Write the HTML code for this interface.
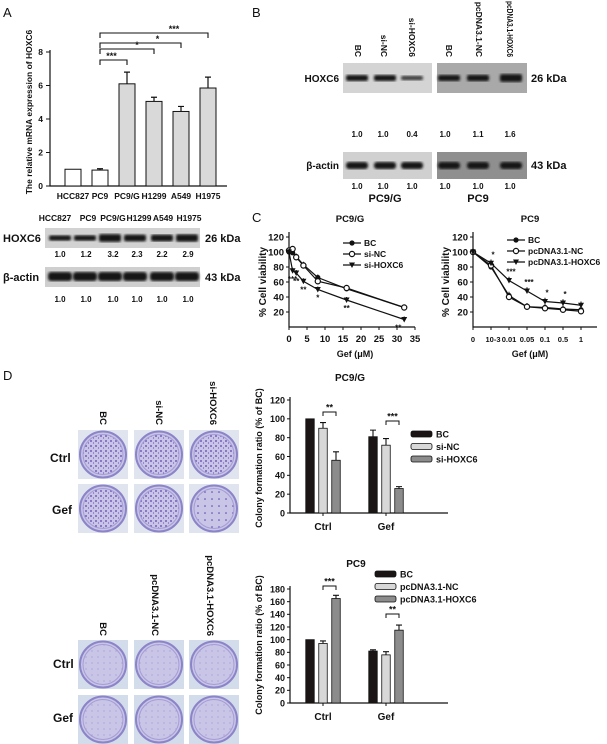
<!DOCTYPE html>
<html><head><meta charset="utf-8">
<style>
html,body{margin:0;padding:0;background:#fff;}
svg{display:block;font-family:"Liberation Sans",Arial,sans-serif;}
text{font-weight:bold;fill:#111;}
.pl{font-weight:normal;font-size:13px;}
</style></head>
<body>
<svg id="fig" width="607" height="744" viewBox="0 0 607 744" xmlns="http://www.w3.org/2000/svg">
<defs>
<filter id="blur1"><feGaussianBlur stdDeviation="1.2"/></filter>
<pattern id="dots1" width="5" height="5" patternUnits="userSpaceOnUse"><circle cx="1" cy="1" r="0.9" fill="#5a3fb0"/><circle cx="3.5" cy="3" r="0.6" fill="#6c52c0"/></pattern>
<pattern id="dots2" width="7" height="7" patternUnits="userSpaceOnUse"><circle cx="2" cy="2" r="0.8" fill="#5a3fb0"/></pattern>
<pattern id="dots3" width="6" height="6" patternUnits="userSpaceOnUse"><circle cx="2" cy="3" r="0.5" fill="#8a78c8"/></pattern>
</defs>

<text class="pl" x="3" y="17">A</text>
<text class="pl" x="252" y="17">B</text>
<text class="pl" x="252" y="222">C</text>
<text class="pl" x="3" y="380">D</text>

<text x="0" y="0" font-size="8.5" text-anchor="middle" transform="translate(32,112) rotate(-90)">The relative mRNA expression of HOXC6</text>

<g id="gA"></g>

<g>
<g font-size="8.5" text-anchor="middle">
<text x="55" y="221">HCC827</text><text x="88" y="221">PC9</text><text x="113" y="221">PC9/G</text><text x="139" y="221">H1299</text><text x="163" y="221">A549</text><text x="189" y="221">H1975</text>
</g>
<text x="3" y="242" font-size="11">HOXC6</text>
<text x="3" y="281" font-size="11">β-actin</text>
<text x="205" y="242" font-size="11">26 kDa</text>
<text x="205" y="281" font-size="11">43 kDa</text>
<rect x="45" y="228" width="155" height="20" fill="#d2d2d2"/>
<rect x="45" y="267" width="155" height="20" fill="#cfcfcf"/>
<g id="bandsA"></g>
<g font-size="8" text-anchor="middle">
<text x="60" y="257">1.0</text><text x="86" y="257">1.2</text><text x="113" y="257">3.2</text><text x="137" y="257">2.3</text><text x="162" y="257">2.2</text><text x="188" y="257">2.9</text>
<text x="60" y="302">1.0</text><text x="86" y="302">1.0</text><text x="113" y="302">1.0</text><text x="137" y="302">1.0</text><text x="162" y="302">1.0</text><text x="188" y="302">1.0</text>
</g>
</g>

<g>
<g font-size="8.5">
<text x="0" y="0" transform="translate(355,57) rotate(90)" text-anchor="end">BC</text>
<text x="0" y="0" transform="translate(381,57) rotate(90)" text-anchor="end">si-NC</text>
<text x="0" y="0" transform="translate(409,57) rotate(90)" text-anchor="end">si-HOXC6</text>
<text x="0" y="0" transform="translate(446,57) rotate(90)" text-anchor="end">BC</text>
<text x="0" y="0" transform="translate(476,57) rotate(90)" text-anchor="end">pcDNA3.1-NC</text>
<text x="0" y="0" transform="translate(507,57) rotate(90)" text-anchor="end" textLength="56" lengthAdjust="spacingAndGlyphs">pcDNA3.1-HOXC6</text>
</g>
<text x="339" y="82" font-size="10" text-anchor="end">HOXC6</text>
<text x="339" y="169" font-size="10" text-anchor="end">β-actin</text>
<text x="531" y="82" font-size="11">26 kDa</text>
<text x="531" y="169" font-size="11">43 kDa</text>
<rect x="343" y="63" width="89" height="30" fill="#d4d4d4"/>
<rect x="437" y="63" width="90" height="30" fill="#a9a9a9"/>
<rect x="343" y="152" width="89" height="27" fill="#d0d0d0"/>
<rect x="437" y="152" width="90" height="27" fill="#8f8f8f"/>
<g id="bandsB"></g>
<g font-size="8" text-anchor="middle">
<text x="357" y="137">1.0</text><text x="383" y="137">1.0</text><text x="412" y="137">0.4</text>
<text x="445" y="137">1.0</text><text x="478" y="137">1.1</text><text x="510" y="137">1.6</text>
<text x="357" y="189">1.0</text><text x="383" y="189">1.0</text><text x="412" y="189">1.0</text>
<text x="445" y="189">1.0</text><text x="478" y="189">1.0</text><text x="510" y="189">1.0</text>
</g>
<text x="385" y="202" font-size="11" text-anchor="middle">PC9/G</text>
<text x="478" y="202" font-size="11" text-anchor="middle">PC9</text>
</g>

<text x="350" y="222" font-size="9.5" text-anchor="middle">PC9/G</text>
<text x="530" y="222" font-size="9.5" text-anchor="middle">PC9</text>
<text x="0" y="0" font-size="10" text-anchor="middle" transform="translate(266,282) rotate(-90)">% Cell viability</text>
<text x="0" y="0" font-size="10" text-anchor="middle" transform="translate(449,282) rotate(-90)">% Cell viability</text>
<text x="355" y="357" font-size="9" text-anchor="middle">Gef (μM)</text>
<text x="530" y="357" font-size="9" text-anchor="middle">Gef (μM)</text>
<g id="gC1"></g>
<g id="gC2"></g>

<g>
<g font-size="9.5">
<text x="0" y="0" transform="translate(100,425) rotate(90)" text-anchor="end">BC</text>
<text x="0" y="0" transform="translate(156,425) rotate(90)" text-anchor="end">si-NC</text>
<text x="0" y="0" transform="translate(210,425) rotate(90)" text-anchor="end">si-HOXC6</text>
<text x="0" y="0" transform="translate(100,636) rotate(90)" text-anchor="end">BC</text>
<text x="0" y="0" transform="translate(152,636) rotate(90)" text-anchor="end">pcDNA3.1-NC</text>
<text x="0" y="0" transform="translate(207,636) rotate(90)" text-anchor="end">pcDNA3.1-HOXC6</text>
</g>
<g font-size="12">
<text x="50" y="462">Ctrl</text><text x="52" y="514">Gef</text>
<text x="53" y="668">Ctrl</text><text x="53" y="722">Gef</text>
</g>
<g id="plates"></g>
</g>

<text x="0" y="0" font-size="9" text-anchor="middle" transform="translate(262,458) rotate(-90)">Colony  formation ratio (% of BC)</text>
<text x="0" y="0" font-size="9" text-anchor="middle" transform="translate(262,645) rotate(-90)">Colony  formation ratio (% of BC)</text>
<text x="350" y="381" font-size="10" text-anchor="middle">PC9/G</text>
<text x="356" y="567" font-size="10" text-anchor="middle">PC9</text>
<g id="gD1"></g>
<g id="gD2"></g>
</svg>

<script>
const aCats = ['HCC827','PC9','PC9/G','H1299','A549','H1975'];
const aVals = [1.0, 0.95, 6.1, 5.05, 4.45, 5.85];
const aErr = [0, 0.08, 0.7, 0.25, 0.3, 0.65];
const aTicks = [0, 2, 4, 6, 8];
const aSig = [['PC9/G','***'],['H1299','*'],['A549','*'],['H1975','***']];
const blotA_hox = [1.0, 1.2, 3.2, 2.3, 2.2, 2.9];
const blotB_hox = [1.0, 1.0, 0.4, 1.0, 1.1, 1.6];
const c1X = [0, 1, 2, 4, 8, 16, 32];
const c1BC = [100, 99, 94, 83, 66, 51, 26];
const c1NC = [102, 104, 93, 82, 61, 52, 26];
const c1HOX = [100, 75, 72, 61, 50, 36, 10];
const c1Xticks = [0, 5, 10, 15, 20, 25, 30, 35];
const cYticks = [20, 40, 60, 80, 100, 120];
const c1Stars = [[1,'***'],[2,'**'],[4,'**'],[8,'*'],[16,'**'],[32,'**']];
const c2Cats = ['0','10-3','0.01','0.05','0.1','0.5','1'];
const c2BC = [100, 80, 42, 27, 26, 24, 23];
const c2NC = [100, 82, 40, 27, 25, 23, 21];
const c2HOX = [100, 85, 62, 48, 34, 32, 29];
const c2Stars = [[1,'*'],[2,'***'],[3,'***'],[4,'*'],[5,'*']];
const dGroups = ['Ctrl','Gef'];
const d1BC = [100, 81];
const d1NC = [90, 72];
const d1HOX = [56, 26];
const d1Err = [[0,6,9],[7,7,2]];
const d1Ticks = [0, 20, 40, 60, 80, 100, 120];
const d1Sig = ['**','***'];
const d2BC = [100, 82];
const d2NC = [94, 76];
const d2HOX = [165, 115];
const d2Err = [[0,4,5],[2,5,8]];
const d2Ticks = [0, 20, 40, 60, 80, 100, 120, 140, 160, 180];
const d2Sig = ['***','**'];

const NS = 'http://www.w3.org/2000/svg';
function mk(tag, attrs, parent){
  const e = document.createElementNS(NS, tag);
  for (const k in attrs) e.setAttribute(k, attrs[k]);
  parent.appendChild(e);
  return e;
}
function txt(parent, x, y, s, size, anchor){
  const t = mk('text', {x:x, y:y, 'font-size':size, 'text-anchor':anchor||'middle'}, parent);
  t.textContent = s;
  return t;
}

(function(){
  const g = document.getElementById('gA');
  const yA = v => 186 - v * 16.75;
  const xA = i => 73 + i * 27;
  let ax = mk('path', {d:'M50,50 V186 H227', stroke:'#111', 'stroke-width':1.2, fill:'none'}, g);
  
  
  aTicks.forEach(t => {
    mk('line', {x1:46, x2:50, y1:yA(t), y2:yA(t), stroke:'#111'}, g);
    const l = txt(g, 43, yA(t)+3, String(t), 8.5, 'end');
    
    
  });
  aCats.forEach((c, i) => {
    const x = xA(i), v = aVals[i];
    const b = mk('rect', {x:x-8, y:yA(v), width:16, height:186-yA(v), fill: i<2 ? '#fff' : '#d9d9d9', stroke:'#111', 'stroke-width':1}, g);
    
    
    if (aErr[i] > 0) {
      mk('path', {d:`M${x},${yA(v)} V${yA(v+aErr[i])} M${x-3},${yA(v+aErr[i])} H${x+3}`, stroke:'#111', 'stroke-width':1.2, fill:'none'}, g);
    }
    const l = txt(g, x, 199, c, 8.5);
    
    
  });
  const px = xA(aCats.indexOf('PC9'));
  const bys = [60, 49, 43, 33];
  aSig.forEach((s, k) => {
    const tx = xA(aCats.indexOf(s[0]));
    const y = bys[k];
    const br = mk('path', {d:`M${px},${y+5} V${y} H${tx} V${y+5}`, stroke:'#111', 'stroke-width':1.1, fill:'none'}, g);
    
    
    txt(g, (px+tx)/2 + (k===0?-2:(k===3?20:k===2?17:10)), y-1, s[1], 9);
  });
})();

(function(){
  const g = document.getElementById('bandsA');
  const cx = [60, 85, 110, 135, 162, 187];
  cx.forEach((x, i) => {
    const h = 4 + blotA_hox[i]*1.2;
    let b = mk('rect', {x:x-11, y:238-h/2, width:22, height:h, rx:2, fill:'#151515', filter:'url(#blur1)'}, g);
    
    
    let a = mk('rect', {x:x-12, y:272, width:24, height:9, rx:3, fill:'#151515', filter:'url(#blur1)'}, g);
    
    
  });
  const gb = document.getElementById('bandsB');
  const cb = [357, 385, 412, 449, 478, 511];
  cb.forEach((x, i) => {
    const h = 3 + blotB_hox[i]*3;
    let b = mk('rect', {x:x-11, y:78-h/2, width:22, height:h, rx:2, fill:'#151515', filter:'url(#blur1)', opacity: i===2 ? 0.8 : 1}, gb);
    
    
    let a = mk('rect', {x:x-11, y:162, width:22, height:7, rx:3, fill:'#151515', filter:'url(#blur1)'}, gb);
    
    
  });
})();

function marker(g, x, y, type){
  let m;
  if (type === 0) m = mk('circle', {cx:x, cy:y, r:2.6, fill:'#111'}, g);
  else if (type === 1) m = mk('circle', {cx:x, cy:y, r:2.6, fill:'#fff', stroke:'#111', 'stroke-width':1.2}, g);
  else m = mk('path', {d:`M${x-3},${y-2.5} H${x+3} L${x},${y+3} Z`, fill:'#111'}, g);
  return m;
}
function legendLine(g, x, y, type, label){
  mk('line', {x1:x, x2:x+18, y1:y, y2:y, stroke:'#111', 'stroke-width':1.2}, g);
  marker(g, x+9, y, type);
  const t = txt(g, x+21, y+3, label, 8.5, 'start');
  
  
}
(function(){
  const g = document.getElementById('gC1');
  const xs = v => 289 + v * 3.6;
  const ys = v => 327 - v * 0.75;
  let ax = mk('path', {d:`M289,232 V327 H${xs(35)}`, stroke:'#111', 'stroke-width':1.2, fill:'none'}, g);
  
  
  cYticks.forEach(t => {
    mk('line', {x1:286, x2:289, y1:ys(t), y2:ys(t), stroke:'#111'}, g);
    const l = txt(g, 284, ys(t)+3.5, String(t), 9.5, 'end');
    
    
  });
  c1Xticks.forEach(t => {
    mk('line', {x1:xs(t), x2:xs(t), y1:327, y2:330, stroke:'#111'}, g);
    const l = txt(g, xs(t), 342, String(t), 9.5);
    
    
  });
  [c1BC, c1NC, c1HOX].forEach((ser, si) => {
    const d = ser.map((v, i) => (i ? 'L' : 'M') + xs(c1X[i]) + ',' + ys(v)).join(' ');
    const p = mk('path', {d:d, stroke:'#111', 'stroke-width':1.2, fill:'none'}, g);
    
    
    ser.forEach((v, i) => {
      mk('line', {x1:xs(c1X[i]), x2:xs(c1X[i]), y1:ys(v), y2:ys(v+4), stroke:'#111'}, g);
      const m = marker(g, xs(c1X[i]), ys(v), si);
      
      
    });
  });
  c1Stars.forEach(s => {
    const i = c1X.indexOf(s[0]);
    txt(g, xs(s[0]) + (s[0] === 32 ? -6 : 0), ys(c1HOX[i]) + 11, s[1], 8);
  });
  legendLine(g, 343, 243, 0, 'BC');
  legendLine(g, 343, 254, 1, 'si-NC');
  legendLine(g, 343, 265, 2, 'si-HOXC6');
})();
(function(){
  const g = document.getElementById('gC2');
  const xs = i => 473 + i * 18;
  const ys = v => 327 - v * 0.75;
  let ax = mk('path', {d:`M473,232 V327 H597`, stroke:'#111', 'stroke-width':1.2, fill:'none'}, g);
  
  
  cYticks.forEach(t => {
    mk('line', {x1:470, x2:473, y1:ys(t), y2:ys(t), stroke:'#111'}, g);
    const l = txt(g, 468, ys(t)+3.5, String(t), 9.5, 'end');
    
    
  });
  c2Cats.forEach((c, i) => {
    mk('line', {x1:xs(i), x2:xs(i), y1:327, y2:330, stroke:'#111'}, g);
    const l = txt(g, xs(i) + (i===1?2:0), 342, c, 7.5);
    
    
  });
  [c2BC, c2NC, c2HOX].forEach((ser, si) => {
    const d = ser.map((v, i) => (i ? 'L' : 'M') + xs(i) + ',' + ys(v)).join(' ');
    const p = mk('path', {d:d, stroke:'#111', 'stroke-width':1.2, fill:'none'}, g);
    
    
    ser.forEach((v, i) => {
      mk('line', {x1:xs(i), x2:xs(i), y1:ys(v), y2:ys(v+5), stroke:'#111'}, g);
      const m = marker(g, xs(i), ys(v), si);
      
      
    });
  });
  c2Stars.forEach(s => {
    txt(g, xs(s[0]) + 2, ys(c2HOX[s[0]]) - 6, s[1], 8);
  });
  legendLine(g, 507, 240, 0, 'BC');
  legendLine(g, 507, 251, 1, 'pcDNA3.1-NC');
  legendLine(g, 507, 262, 2, 'pcDNA3.1-HOXC6');
})();

function colonyChart(id, y0, ppu, ticks, bc, nc, hox, err, sig, sigY, legX, legY, legLabels){
  const g = document.getElementById(id);
  const ys = v => y0 - v * ppu;
  const gx = i => 323 + i * 63;
  let ax = mk('path', {d:`M290,${ys(ticks[ticks.length-1])-3} V${y0} H448`, stroke:'#111', 'stroke-width':1.2, fill:'none'}, g);
  
  
  ticks.forEach(t => {
    mk('line', {x1:287, x2:290, y1:ys(t), y2:ys(t), stroke:'#111'}, g);
    const l = txt(g, 285, ys(t)+3.3, String(t), 9, 'end');
    
    
  });
  const fills = ['#1c1515', '#d8d8d8', '#8c8c8c'];
  dGroups.forEach((gname, i) => {
    const c = gx(i);
    mk('line', {x1:c, x2:c, y1:y0, y2:y0+3, stroke:'#111'}, g);
    const lab = txt(g, c, y0+17, gname, 10);
    
    
    [bc, nc, hox].forEach((ser, s) => {
      const x = c - 13 + s * 13, v = ser[i];
      const b = mk('rect', {x:x-4.25, y:ys(v), width:8.5, height:y0-ys(v), fill:fills[s], stroke:'#111', 'stroke-width':0.8}, g);
      
      
      const e = err[i][s];
      if (e > 0) mk('path', {d:`M${x},${ys(v)} V${ys(v+e)} M${x-3},${ys(v+e)} H${x+3}`, stroke:'#111', 'stroke-width':1.1, fill:'none'}, g);
    });
    const by = sigY[i];
    const br = mk('path', {d:`M${c},${by+4} V${by} H${c+13} V${by+4}`, stroke:'#111', 'stroke-width':1, fill:'none'}, g);
    
    
    txt(g, c + 6.5, by - 1.5, sig[i], 9);
  });
  legLabels.forEach((l, k) => {
    const y = legY + k * 12.5;
    const r = mk('rect', {x:legX, y:y-3, width:21, height:6, rx:2, fill:fills[k], stroke:'#111', 'stroke-width':0.8}, g);
    
    
    const t = txt(g, legX + 25, y + 3.5, l, 9, 'start');
    
    
  });
}
colonyChart('gD1', 513, 113/120, d1Ticks, d1BC, d1NC, d1HOX, d1Err, d1Sig, [412, 421], 411, 434, ['BC','si-NC','si-HOXC6']);
colonyChart('gD2', 703, 114/180, d2Ticks, d2BC, d2NC, d2HOX, d2Err, d2Sig, [586, 614], 375, 574, ['BC','pcDNA3.1-NC','pcDNA3.1-HOXC6']);

(function(){
  const g = document.getElementById('plates');
  const cols = [78, 134, 189];
  const rows = [[430, 'url(#dots1)', '#dfe4ef'], [484, 'url(#dots1)', '#dfe4ef'], [640, 'url(#dots3)', '#d3dcea'], [695, 'url(#dots3)', '#d3dcea']];
  rows.forEach((r, ri) => {
    cols.forEach((x, ci) => {
      const y = r[0];
      const bg = mk('rect', {x:x, y:y, width:50, height:49, fill:r[2]}, g);
      
      
      mk('circle', {cx:x+25, cy:y+24.5, r:23, fill:'#c9c5e6', stroke:'#8c84c8', 'stroke-width':2}, g);
      mk('circle', {cx:x+25, cy:y+24.5, r:20, fill:(ri===1 && ci===2) ? 'url(#dots2)' : r[1], stroke:'#a49cd6', 'stroke-width':1}, g);
    });
  });
})();
</script>
</body></html>
